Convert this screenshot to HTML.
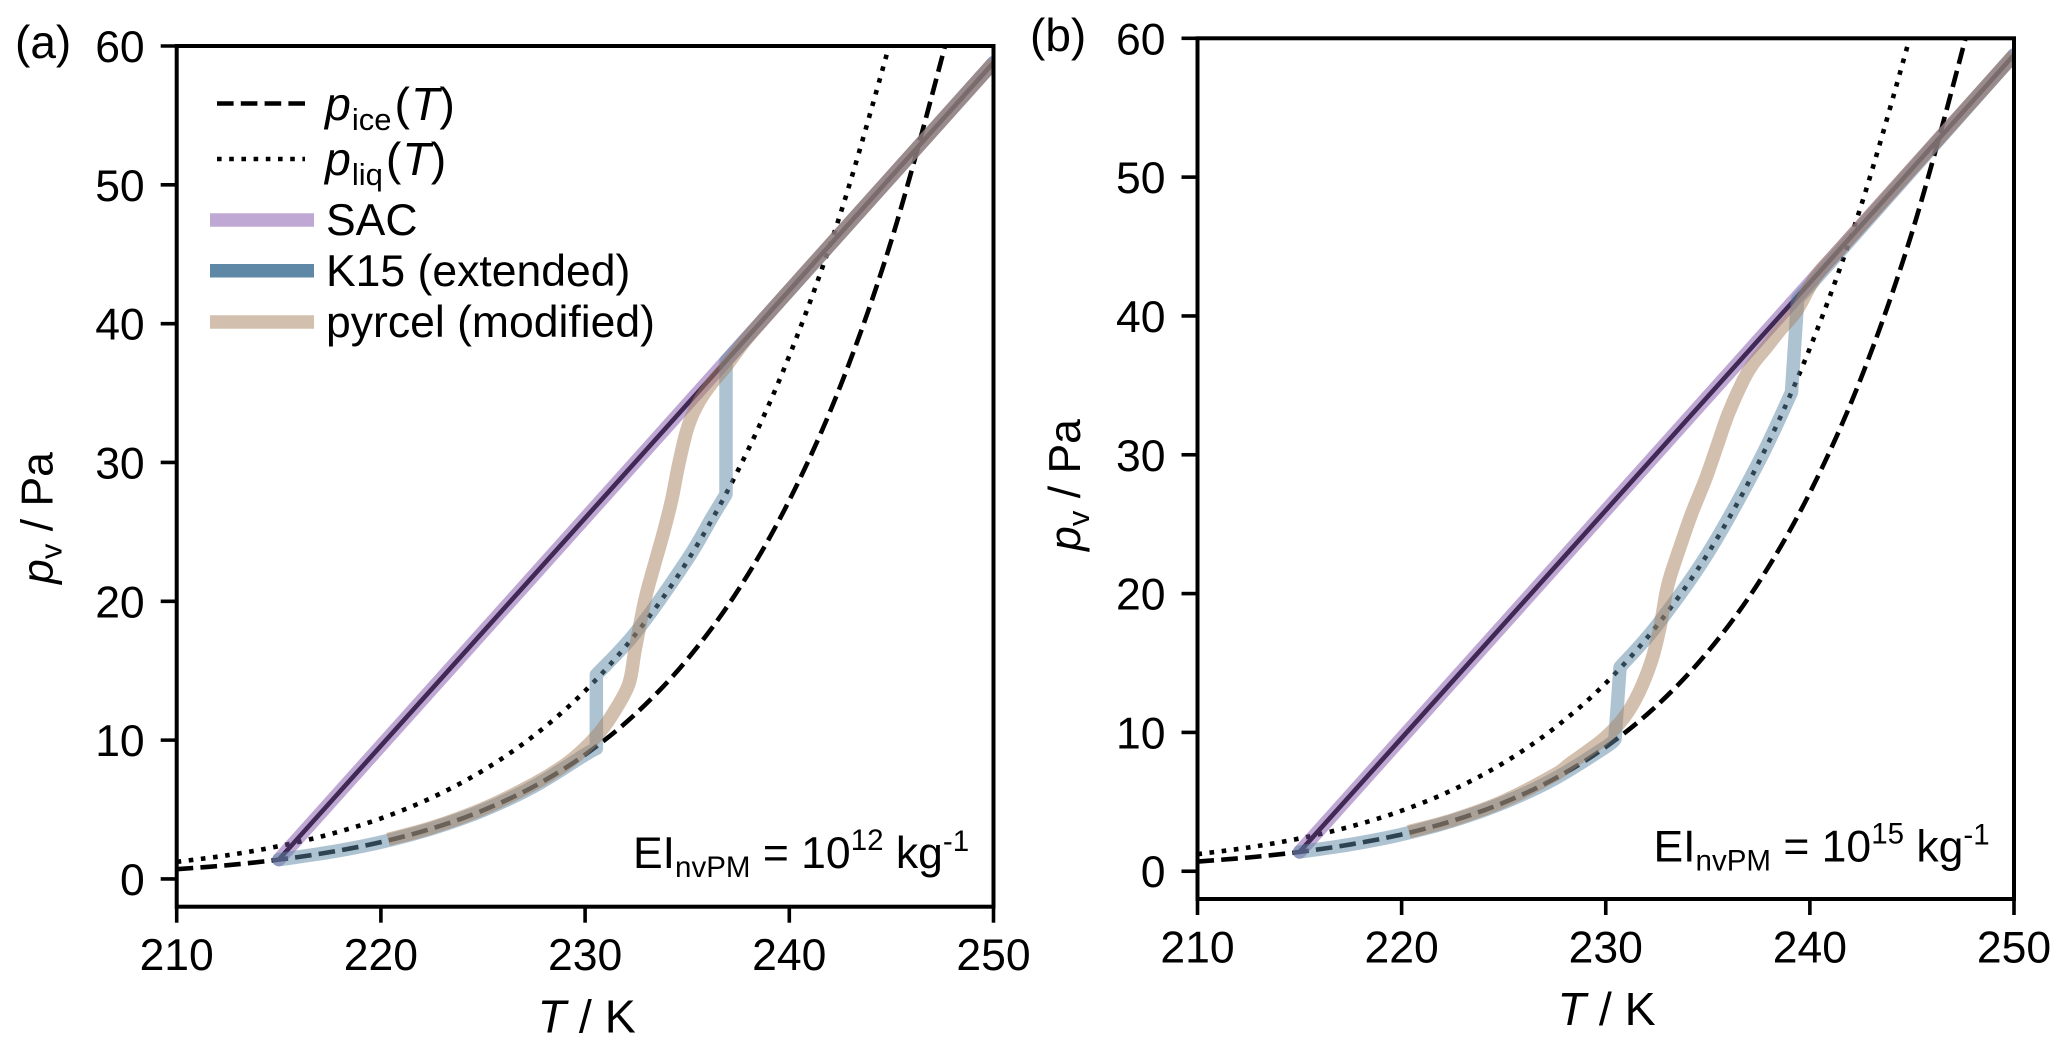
<!DOCTYPE html>
<html lang="en">
<head>
<meta charset="utf-8">
<title>Vapour pressure phase diagrams</title>
<style>
html,body{margin:0;padding:0;background:#fff;}
svg{display:block;}
text{font-family:"Liberation Sans",Arial,sans-serif;font-size:44.5px;fill:#000;white-space:pre;}
.it{font-style:italic;}
</style>
</head>
<body>
<svg id="chart" xmlns="http://www.w3.org/2000/svg" width="2067" height="1051" viewBox="0 0 2067 1051">
  <rect x="0" y="0" width="2067" height="1051" fill="#fff"/>
  <defs>
    <clipPath id="clip-a"><rect x="176.7" y="46" width="816.8" height="860.7"/></clipPath>
    <clipPath id="clip-b"><rect x="1197.5" y="38.3" width="816.5" height="860.7"/></clipPath>
  </defs>
  <g id="panel-a"></g>
  <g id="panel-b"></g>

  <text x="15" y="58" style="font-size:46px">(a)</text>
  <text x="1030" y="51" style="font-size:46px">(b)</text>

  <text x="586.7" y="1032.5" text-anchor="middle" style="font-size:46.5px"><tspan class="it">T</tspan> / K</text>
  <text x="1606.6" y="1025" text-anchor="middle" style="font-size:46.5px"><tspan class="it">T</tspan> / K</text>
  <text transform="translate(52.3 518) rotate(-90)" text-anchor="middle"><tspan class="it">p</tspan><tspan style="font-size:31px" dy="9">v</tspan><tspan dy="-9"> / Pa</tspan></text>
  <text transform="translate(1080 485) rotate(-90)" text-anchor="middle"><tspan class="it">p</tspan><tspan style="font-size:31px" dy="9">v</tspan><tspan dy="-9"> / Pa</tspan></text>

  <text x="633" y="868">EI<tspan style="font-size:29.5px" dy="9">nvPM</tspan><tspan dy="-9"> = 10</tspan><tspan style="font-size:29.5px" dy="-18">12</tspan><tspan dy="18"> kg</tspan><tspan style="font-size:29.5px" dy="-17">-1</tspan></text>
  <text x="1653.5" y="861.7">EI<tspan style="font-size:29.5px" dy="9">nvPM</tspan><tspan dy="-9"> = 10</tspan><tspan style="font-size:29.5px" dy="-18">15</tspan><tspan dy="18"> kg</tspan><tspan style="font-size:29.5px" dy="-17">-1</tspan></text>

  <g>
    <line x1="217" y1="103.5" x2="305" y2="103.5" stroke="#000" stroke-width="4.6" stroke-dasharray="16.6 7.2"/>
    <line x1="217" y1="159" x2="305" y2="159" stroke="#000" stroke-width="4.6" stroke-dasharray="4.6 7.6"/>
    <line x1="210" y1="220" x2="314" y2="220" stroke="#bfa9d4" stroke-width="13.5"/>
    <line x1="210" y1="270.7" x2="314" y2="270.7" stroke="#5e88a5" stroke-width="13.5"/>
    <line x1="210" y1="322" x2="314" y2="322" stroke="#d2bfae" stroke-width="13.5"/>
    <text x="325" y="120" style="font-size:46.5px"><tspan class="it">p</tspan><tspan style="font-size:31px" dy="10" dx="1">ice</tspan><tspan dy="-10" dx="3">(</tspan><tspan class="it" dx="1">T</tspan>)</text>
    <text x="325" y="175" style="font-size:46.5px"><tspan class="it">p</tspan><tspan style="font-size:31px" dy="10" dx="1">liq</tspan><tspan dy="-10" dx="3">(</tspan><tspan class="it" dx="1">T</tspan>)</text>
    <text x="326" y="235">SAC</text>
    <text x="326" y="286">K15 (extended)</text>
    <text x="326" y="337">pyrcel (modified)</text>
  </g>
</svg>
<script>
// Tick values
const xTicks = [210, 220, 230, 240, 250];
const yTicks = [0, 10, 20, 30, 40, 50, 60];

// Saturation curves (same in both panels)
const iceT = [210, 212.5, 215, 217.5, 220, 222.5, 225, 227.5, 230, 232.5, 235, 237.5, 240, 242.5, 245, 247.5, 248.5];
const iceP = [0.70, 0.99, 1.39, 1.93, 2.65, 3.63, 4.94, 6.67, 8.95, 11.93, 15.81, 20.82, 27.27, 35.5, 46.0, 59.3, 65.5];
const liqT = [210, 212.5, 215, 217.5, 220, 222.5, 225, 227.5, 230, 232.5, 235, 237.5, 240, 242.5, 245, 245.5];
const liqP = [1.23, 1.71, 2.36, 3.22, 4.36, 5.86, 7.81, 10.33, 13.55, 17.68, 22.88, 29.46, 37.68, 47.9, 60.6, 63.6];

// SAC mixing line
const sacT = [215, 250];
const sacP = [1.39, 58.8];

// Panel (a) model trajectories
const aK15T = [215, 217.5, 220, 222.5, 225, 227.5, 230, 230.55, 230.55, 232.5, 235, 236.2, 236.9, 236.9, 250];
const aK15P = [1.39, 1.93, 2.65, 3.63, 4.94, 6.67, 8.95, 9.4, 14.7, 17.8, 23.0, 26.0, 27.7, 37.3, 58.8];
const aPyrT = [220.35, 222.5, 225, 227.5, 229, 229.9, 230.74, 231.47, 232.15, 232.45, 232.93, 233.37, 233.83, 234.24, 234.56, 234.94, 235.22, 235.63, 236.2, 236.94, 237.8, 239, 241, 245, 250];
const aPyrP = [2.85, 3.7, 5.05, 6.85, 8.2, 9.3, 10.6, 12.16, 14.08, 16.5, 20.09, 22.5, 24.9, 27.3, 29.7, 32.1, 33.3, 34.5, 35.7, 37.0, 38.7, 40.75, 44.05, 50.6, 58.8];

// Panel (b) model trajectories
const bK15T = [215, 217.5, 220, 222.5, 225, 227.5, 230, 230.45, 230.7, 232.5, 235, 237.5, 239.1, 239.4, 250];
const bK15P = [1.39, 1.93, 2.65, 3.63, 4.94, 6.67, 8.95, 9.5, 14.7, 17.7, 22.9, 29.5, 34.5, 41.2, 58.8];
const bPyrT = [220.35, 222.5, 225, 227.5, 228.25, 229.87, 230.86, 231.6, 232.25, 232.66, 232.95, 233.15, 233.64, 234.21, 234.87, 235.44, 236.01, 236.74, 237.23, 237.89, 238.54, 239.36, 240.3, 241.5, 245, 250];
const bPyrP = [2.85, 3.7, 5.05, 6.95, 7.75, 9.5, 11.0, 12.8, 15.2, 17.6, 20.0, 21.2, 23.37, 25.77, 28.17, 30.57, 32.97, 35.37, 36.58, 37.77, 38.98, 40.4, 42.85, 44.85, 50.6, 58.8];

const SVGNS = 'http://www.w3.org/2000/svg';

function makeEl(tag, parent, attrs) {
  const el = document.createElementNS(SVGNS, tag);
  Object.keys(attrs).forEach(function (k) { el.setAttribute(k, attrs[k]); });
  parent.appendChild(el);
  return el;
}

// Smooth path through the points; near-vertical steps stay sharp corners when corners=true
function buildPath(Ts, Ps, sx, sy, corners) {
  const pts = Ts.map(function (t, i) { return [sx(t), sy(Ps[i])]; });
  const isStep = function (i) { return corners && Math.abs(Ts[i + 1] - Ts[i]) < 0.4; };
  let d = 'M' + pts[0][0].toFixed(2) + ' ' + pts[0][1].toFixed(2);
  for (let i = 0; i < pts.length - 1; i++) {
    const p1 = pts[i], p2 = pts[i + 1];
    if (isStep(i) || pts.length === 2) {
      d += 'L' + p2[0].toFixed(2) + ' ' + p2[1].toFixed(2);
      continue;
    }
    const p0 = (i > 0 && !isStep(i - 1)) ? pts[i - 1] : p1;
    const p3 = (i < pts.length - 2 && !isStep(i + 1)) ? pts[i + 2] : p2;
    const c1x = p1[0] + (p2[0] - p0[0]) / 6, c1y = p1[1] + (p2[1] - p0[1]) / 6;
    const c2x = p2[0] - (p3[0] - p1[0]) / 6, c2y = p2[1] - (p3[1] - p1[1]) / 6;
    d += 'C' + c1x.toFixed(2) + ' ' + c1y.toFixed(2) + ' ' + c2x.toFixed(2) + ' ' + c2y.toFixed(2) + ' ' + p2[0].toFixed(2) + ' ' + p2[1].toFixed(2);
  }
  return d;
}

function drawPanel(id, clipId, left, right, top, bottom, k15T, k15P, pyrT, pyrP) {
  const root = document.getElementById(id);
  const sx = function (t) { return left + (t - 210) / 40 * (right - left); };
  const sy = function (v) { return bottom - (v + 2) / 62 * (bottom - top); };
  const marks = makeEl('g', root, { 'clip-path': 'url(#' + clipId + ')' });
  
  

  const ice = makeEl('path', marks, { d: buildPath(iceT, iceP, sx, sy, false), fill: 'none', stroke: '#000', 'stroke-width': 4.6, 'stroke-dasharray': '16.6 7.2' });
  
  

  const liq = makeEl('path', marks, { d: buildPath(liqT, liqP, sx, sy, false), fill: 'none', stroke: '#000', 'stroke-width': 4.6, 'stroke-dasharray': '4.6 7.6' });
  
  

  const sacCore = makeEl('path', marks, { d: buildPath(sacT, sacP, sx, sy, false), fill: 'none', stroke: '#000', 'stroke-width': 4.6 });
  
  

  const sac = makeEl('path', marks, { d: buildPath(sacT, sacP, sx, sy, false), fill: 'none', stroke: '#7f53a9', 'stroke-opacity': 0.5, 'stroke-width': 13.5, 'stroke-linecap': 'round' });
  
  

  const k15 = makeEl('path', marks, { d: buildPath(k15T, k15P, sx, sy, true), fill: 'none', stroke: '#5e88a5', 'stroke-opacity': 0.5, 'stroke-width': 13.5, 'stroke-linecap': 'round', 'stroke-linejoin': 'round' });
  
  

  const pyr = makeEl('path', marks, { d: buildPath(pyrT, pyrP, sx, sy, false), fill: 'none', stroke: '#a67f5d', 'stroke-opacity': 0.5, 'stroke-width': 13.5, 'stroke-linejoin': 'round' });
  
  

  const frame = makeEl('rect', root, { x: left, y: top, width: right - left, height: bottom - top, fill: 'none', stroke: '#000', 'stroke-width': 4 });
  
  

  xTicks.forEach(function (t) {
    const tick = makeEl('line', root, { x1: sx(t), x2: sx(t), y1: bottom, y2: bottom + 16, stroke: '#000', 'stroke-width': 3.6 });
    
    
    const label = makeEl('text', root, { x: sx(t), y: bottom + 63.5, 'text-anchor': 'middle' });
    
    
    label.textContent = String(t);
  });

  yTicks.forEach(function (v) {
    const tick = makeEl('line', root, { x1: left - 16, x2: left, y1: sy(v), y2: sy(v), stroke: '#000', 'stroke-width': 3.6 });
    
    
    const label = makeEl('text', root, { x: left - 32, y: sy(v) + 16, 'text-anchor': 'end' });
    
    
    label.textContent = String(v);
  });
}

drawPanel('panel-a', 'clip-a', 176.7, 993.5, 46, 906.7, aK15T, aK15P, aPyrT, aPyrP);
drawPanel('panel-b', 'clip-b', 1197.5, 2014, 38.3, 899, bK15T, bK15P, bPyrT, bPyrP);
</script>
</body>
</html>
